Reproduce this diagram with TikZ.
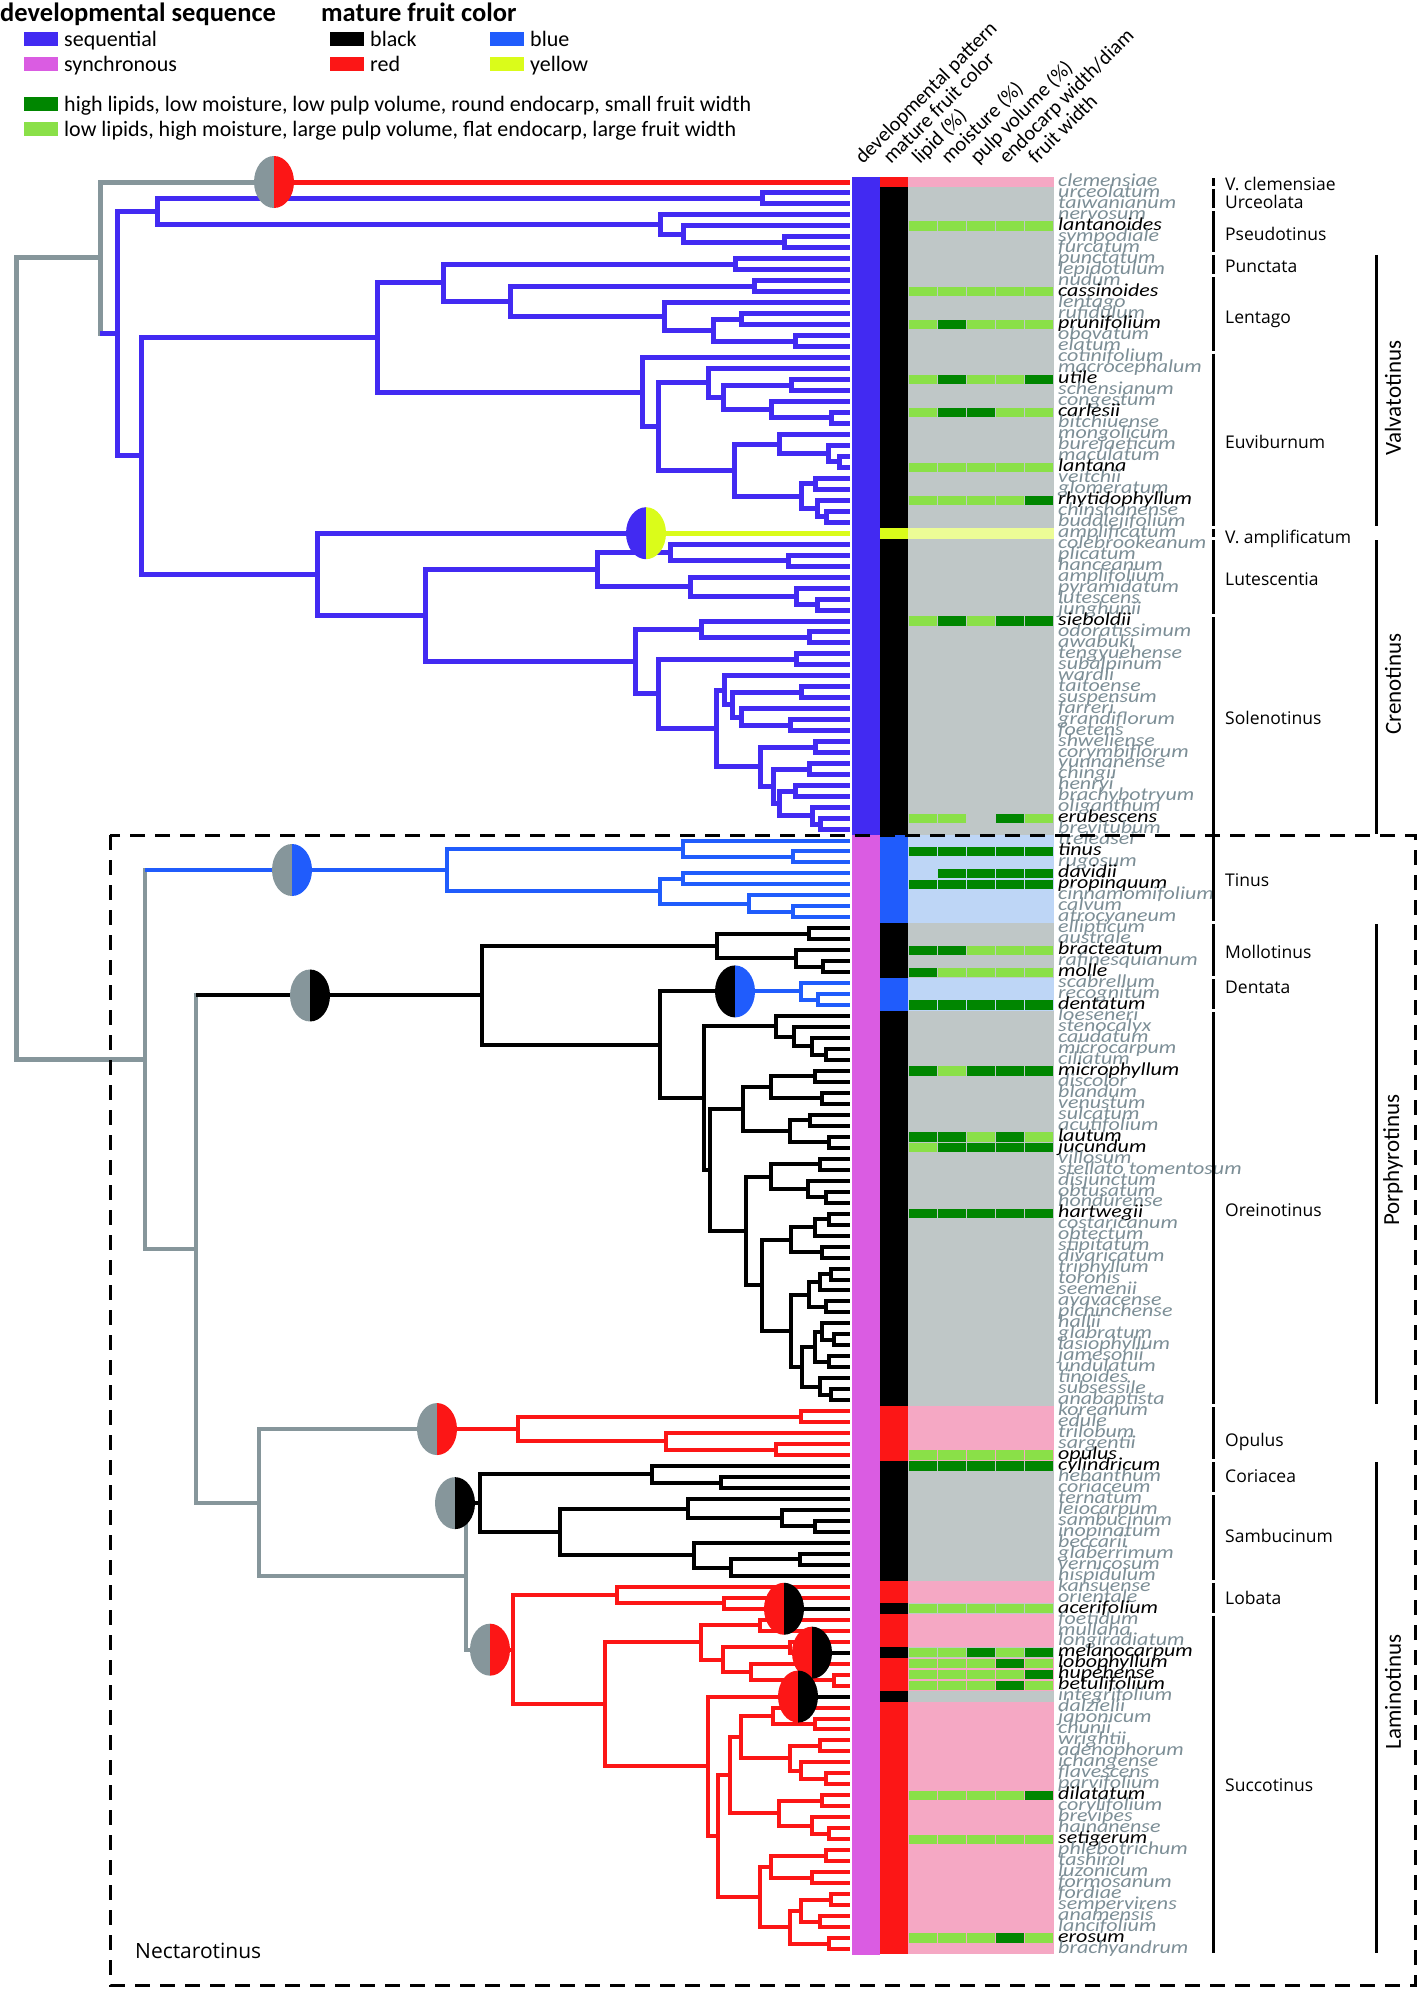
\documentclass[tikz,border=0pt]{standalone}
\usepackage{fontspec}
\setmainfont{Carlito}
\newfontfamily\cladefont{Open Sans}
\newfontfamily\spfont[FakeStretch=1.2]{Carlito}
\usetikzlibrary{calc}

\definecolor{seqc}{RGB}{66,42,242}
\definecolor{syncc}{RGB}{218,92,226}
\definecolor{redf}{RGB}{252,22,22}
\definecolor{bluef}{RGB}{32,92,252}
\definecolor{yelf}{RGB}{218,252,26}
\definecolor{dg}{RGB}{0,134,0}
\definecolor{lg}{RGB}{138,224,72}
\definecolor{greybg}{RGB}{191,199,199}
\definecolor{pinkbg}{RGB}{245,168,196}
\definecolor{bluebg}{RGB}{190,214,246}
\definecolor{yelbg}{RGB}{236,252,150}
\definecolor{treegrey}{RGB}{134,150,155}
\definecolor{sg}{RGB}{124,142,150}

% one node of the tree: name, x, two children
\newcommand{\brn}[4]{%
  \path let \p1=(#3), \p2=(#4) in coordinate (#1) at ({#2pt},{(\y1+\y2)/2});
  \draw (#1) |- (#3);
  \draw (#1) |- (#4);
}
% ancestral state: node, x, left colour, right colour, line width
\newcommand{\halfpie}[5]{%
  \path let \p1=(#1) in coordinate (pie#1) at ({#2pt},\y1);
  \draw[line width=#5, #4] (pie#1) -- (#1);
  \fill[#3] (pie#1) ++(0,26) arc[start angle=90, end angle=270, x radius=20, y radius=26] -- cycle;
  \fill[#4] (pie#1) ++(0,-26) arc[start angle=-90, end angle=90, x radius=20, y radius=26] -- cycle;
}

\tikzset{
  sp/.style={anchor=base west, inner sep=0pt, font=\spfont\itshape\fontsize{18.3}{18}\selectfont},
  hdr/.style={anchor=base west, inner sep=0pt, rotate=45, font=\fontsize{20.5}{22}\selectfont},
  clade/.style={anchor=base west, inner sep=0pt, font=\cladefont\fontsize{17.5}{18}\selectfont},
  grp/.style={rotate=90, inner sep=0pt, font=\fontsize{23}{24}\selectfont},
  cladebar/.style={line width=3pt},
  legt/.style={anchor=base west, inner sep=0pt, font=\bfseries\fontsize{26.5}{28}\selectfont},
  legi/.style={anchor=base west, inner sep=0pt, font=\fontsize{22}{24}\selectfont},
  upper/.style={line width=5pt, line join=miter},
  lower/.style={line width=4pt, line join=miter}
}

\begin{document}
\begin{tikzpicture}[x=1pt, y=-1pt]
\useasboundingbox (0,0) rectangle (1419,1989);

% legend
\node[legt] (lt1) at (0,21) {developmental sequence};
\node[legt] (lt2) at (321,21) {mature fruit color};
\foreach \x/\y/\c/\t in {24/39/seqc/sequential, 24/64/syncc/synchronous,
    330/39/black/black, 490/39/bluef/blue, 330/64/redf/red, 490/64/yelf/yellow,
    24/104/dg/{high lipids, low moisture, low pulp volume, round endocarp, small fruit width},
    24/129/lg/{low lipids, high moisture, large pulp volume, flat endocarp, large fruit width}}{
  \fill[\c] (\x,{\y-7}) rectangle ({\x+34},{\y+7});
  \node[legi] at ({\x+40},{\y+7}) {\t};
}

% column heads
\node[hdr] (h1) at (863,165) {developmental pattern};
\node[hdr] (h2) at (891,165) {mature fruit color};
\node[hdr] (h3) at (920,165) {lipid (\%)};
\node[hdr] (h4) at (949,165) {moisture (\%)};
\node[hdr] (h5) at (978,165) {pulp volume (\%)};
\node[hdr] (h6) at (1007,165) {endocarp width/diam};
\node[hdr] (h7) at (1036,165) {fruit width};

% character columns
\fill[seqc] (852,176.5) rectangle (880,835);
\fill[syncc] (852,835) rectangle (880,1954.5);
\foreach \a/\b/\fc/\bg in {1/1/redf/pinkbg, 2/32/black/greybg, 33/33/yelf/yelbg,
    34/60/black/greybg, 61/68/bluef/bluebg, 69/73/black/greybg, 74/76/bluef/bluebg,
    77/112/black/greybg, 113/117/redf/pinkbg, 118/128/black/greybg, 129/130/redf/pinkbg,
    131/131/black/greybg, 132/134/redf/pinkbg, 135/135/black/greybg, 136/138/redf/pinkbg,
    139/139/black/greybg, 140/162/redf/pinkbg}{
  \fill[\fc] (880,{176.5+(\a-1)*10.975}) rectangle (908,{176.5+\b*10.975});
  \fill[\bg] (908,{176.5+(\a-1)*10.975}) rectangle (1054,{176.5+\b*10.975});
}
\foreach \r/\cs in {5/{lg,lg,lg,lg,lg}, 11/{lg,lg,lg,lg,lg}, 14/{lg,dg,lg,lg,lg},
    19/{lg,dg,lg,lg,dg}, 22/{lg,dg,dg,lg,lg}, 27/{lg,lg,lg,lg,lg}, 30/{lg,lg,lg,lg,dg},
    41/{lg,dg,lg,dg,dg}, 59/{lg,lg,none,dg,lg}, 62/{dg,dg,dg,dg,dg}, 64/{none,dg,dg,dg,dg},
    65/{dg,dg,dg,dg,dg}, 71/{dg,dg,lg,lg,lg}, 73/{dg,lg,lg,lg,lg}, 76/{dg,dg,dg,dg,dg},
    82/{dg,lg,dg,dg,dg}, 88/{dg,dg,lg,dg,lg}, 89/{lg,dg,dg,dg,dg}, 95/{dg,dg,dg,dg,dg},
    117/{lg,lg,lg,lg,lg}, 118/{dg,dg,dg,dg,dg}, 131/{lg,lg,lg,lg,lg}, 135/{lg,lg,dg,lg,dg},
    136/{lg,lg,lg,dg,lg}, 137/{lg,lg,lg,lg,dg}, 138/{lg,lg,lg,dg,lg}, 148/{lg,lg,lg,lg,dg},
    152/{lg,lg,lg,lg,lg}, 161/{lg,lg,lg,dg,lg}}{
  \foreach \c [count=\k] in \cs
    \path[fill=\c] ({908+(\k-1)*29.2+0.6},{176.5+(\r-1)*10.975+0.8})
      rectangle ({908+\k*29.2-0.6},{176.5+\r*10.975-0.8});
}

% taxa
\foreach \nm/\c [count=\i] in {clemensiae/sg, urceolatum/sg, taiwanianum/sg, nervosum/sg,
    lantanoides/black, sympodiale/sg, furcatum/sg, punctatum/sg, lepidotulum/sg, nudum/sg,
    cassinoides/black, lentago/sg, rufidulum/sg, prunifolium/black, obovatum/sg, elatum/sg,
    cotinifolium/sg, macrocephalum/sg, utile/black, schensianum/sg, congestum/sg,
    carlesii/black, bitchiuense/sg, mongolicum/sg, burejaeticum/sg, maculatum/sg,
    lantana/black, veitchii/sg, glomeratum/sg, rhytidophyllum/black, chinshanense/sg,
    buddlejifolium/sg, amplificatum/sg, colebrookeanum/sg, plicatum/sg, hanceanum/sg,
    amplifolium/sg, pyramidatum/sg, lutescens/sg, junghunii/sg, sieboldii/black,
    odoratissimum/sg, awabuki/sg, tengyuehense/sg, subalpinum/sg, wardii/sg, taitoense/sg,
    suspensum/sg, farreri/sg, grandiflorum/sg, foetens/sg, shweliense/sg, corymbiflorum/sg,
    yunnanense/sg, chingii/sg, henryi/sg, brachybotryum/sg, oliganthum/sg, erubescens/black,
    brevitubum/sg, treleasei/sg, tinus/black, rugosum/sg, davidii/black, propinquum/black,
    cinnamomifolium/sg, calvum/sg, atrocyaneum/sg, ellipticum/sg, australe/sg,
    bracteatum/black, rafinesquianum/sg, molle/black, scabrellum/sg, recognitum/sg,
    dentatum/black, loeseneri/sg, stenocalyx/sg, caudatum/sg, microcarpum/sg, ciliatum/sg,
    microphyllum/black, discolor/sg, blandum/sg, venustum/sg, sulcatum/sg, acutifolium/sg,
    lautum/black, jucundum/black, villosum/sg, stellato tomentosum/sg, disjunctum/sg,
    obtusatum/sg, hondurense/sg, hartwegii/black, costaricanum/sg, obtectum/sg,
    stipitatum/sg, divaricatum/sg, triphyllum/sg, toronis/sg, seemenii/sg, ayavacense/sg,
    pichinchense/sg, hallii/sg, glabratum/sg, lasiophyllum/sg, jamesonii/sg, undulatum/sg,
    tinoides/sg, subsessile/sg, anabaptista/sg, koreanum/sg, edule/sg, trilobum/sg,
    sargentii/sg, opulus/black, cylindricum/black, hebanthum/sg, coriaceum/sg, ternatum/sg,
    leiocarpum/sg, sambucinum/sg, inopinatum/sg, beccarii/sg, glaberrimum/sg,
    vernicosum/sg, hispidulum/sg, kansuense/sg, orientale/sg, acerifolium/black,
    foetidum/sg, mullaha/sg, longiradiatum/sg, melanocarpum/black, lobophyllum/black,
    hupehense/black, betulifolium/black, integrifolium/sg, dalzielii/sg, japonicum/sg,
    chunii/sg, wrightii/sg, adenophorum/sg, ichangense/sg, flavescens/sg, parvifolium/sg,
    dilatatum/black, corylifolium/sg, brevipes/sg, hainanense/sg, setigerum/black,
    phlebotrichum/sg, tashiroi/sg, luzonicum/sg, formosanum/sg, fordiae/sg,
    sempervirens/sg, anamensis/sg, lancifolium/sg, erosum/black, brachyandrum/sg}{
  \node[sp, text=\c] (sp\i) at (1058,{182+(\i-1)*10.975+4.3}) {\nm};
  \coordinate (t\i) at (850,{182+(\i-1)*10.975});
}

% clades
\foreach \nm/\a/\b/\ly in {V. clemensiae/1/1/184, Urceolata/2/3/202, Pseudotinus/4/7/234,
    Punctata/8/9/266, Lentago/10/16/317, Euviburnum/17/32/442, V. amplificatum/33/33/537,
    Lutescentia/34/40/579, Solenotinus/41/60/718, Tinus/61/68/880, Mollotinus/69/73/952,
    Dentata/74/76/987, Oreinotinus/77/112/1210, Opulus/113/117/1440, Coriacea/118/120/1476,
    Sambucinum/121/128/1536, Lobata/129/131/1598, Succotinus/132/162/1785}{
  \draw[cladebar] (1213,{176.5+(\a-1)*10.975+1.5}) -- (1213,{176.5+\b*10.975-1.5});
  \node[clade] (c\a) at (1225,{\ly+6}) {\nm};
}
\foreach \nm/\a/\b/\ly in {Valvatotinus/8/32/398, Crenotinus/34/60/684,
    Porphyrotinus/69/112/1160, Laminotinus/118/162/1692}{
  \draw[cladebar] (1376,{176.5+(\a-1)*10.975+1.5}) -- (1376,{176.5+\b*10.975-1.5});
  \node[grp] (g\a) at (1393,\ly) {\nm};
}

% sequential part of the tree
\begin{scope}[upper, color=seqc]
  \brn{u1}{762}{t2}{t3}
  \brn{p2}{784}{t6}{t7}
  \brn{p1}{683}{t5}{p2}
  \brn{p0}{660}{t4}{p1}
  \brn{nc}{157}{u1}{p0}
  \brn{pu}{735}{t8}{t9}
  \brn{l1}{754}{t10}{t11}
  \brn{l4}{741}{t13}{t14}
  \brn{l5}{795}{t15}{t16}
  \brn{l3}{713}{l4}{l5}
  \brn{l2}{664}{t12}{l3}
  \brn{lh}{510}{l1}{l2}
  \brn{ng}{443}{pu}{lh}
  \brn{e1}{791}{t19}{t20}
  \brn{e2}{831}{t22}{t23}
  \brn{e3}{771}{t21}{e2}
  \brn{e4}{723}{e1}{e3}
  \brn{e5}{708}{t18}{e4}
  \brn{e6}{839}{t26}{t27}
  \brn{e7}{828}{t25}{e6}
  \brn{e8}{779}{t24}{e7}
  \brn{e9}{815}{t28}{t29}
  \brn{e10}{826}{t31}{t32}
  \brn{e11}{817}{t30}{e10}
  \brn{e12}{801}{e9}{e11}
  \brn{e13}{734}{e8}{e12}
  \brn{e14}{658}{e5}{e13}
  \brn{eu}{642}{t17}{e14}
  \brn{nf}{377}{ng}{eu}
  \brn{lu1}{788}{t35}{t36}
  \brn{lu2}{670}{t34}{lu1}
  \brn{lu3}{817}{t39}{t40}
  \brn{lu4}{796}{t38}{lu3}
  \brn{lu5}{690}{t37}{lu4}
  \brn{lu}{597}{lu2}{lu5}
  \brn{s1}{809}{t42}{t43}
  \brn{s2}{701}{t41}{s1}
  \brn{s3}{796}{t44}{t45}
  \brn{s4}{801}{t47}{t48}
  \brn{s5}{790}{t50}{t51}
  \brn{s6}{741}{t49}{s5}
  \brn{s7}{732}{s4}{s6}
  \brn{s8}{724}{t46}{s7}
  \brn{s10}{815}{t52}{t53}
  \brn{s11}{809}{t54}{t55}
  \brn{s12}{795}{t56}{t57}
  \brn{s13}{820}{t59}{t60}
  \brn{s14}{812}{t58}{s13}
  \brn{s15}{779}{s12}{s14}
  \brn{s16}{773}{s11}{s15}
  \brn{s17}{760}{s10}{s16}
  \brn{s18}{716}{s8}{s17}
  \brn{s19}{658}{s3}{s18}
  \brn{so}{635}{s2}{s19}
  \brn{cr}{425}{lu}{so}
  \brn{nu}{317}{t33}{cr}
  \brn{ne}{141}{nf}{nu}
  \brn{nb}{117}{nc}{ne}
\end{scope}

% synchronous part of the tree
\begin{scope}[lower, color=bluef]
  \brn{ti1}{793}{t62}{t63}
  \brn{ti2}{683}{t61}{ti1}
  \brn{ti3}{683}{t64}{t65}
  \brn{ti4}{793}{t67}{t68}
  \brn{ti5}{749}{t66}{ti4}
  \brn{ti6}{660}{ti3}{ti5}
  \brn{tin}{447}{ti2}{ti6}
  \brn{d1}{818}{t75}{t76}
  \brn{de}{801}{t74}{d1}
\end{scope}
\begin{scope}[lower, color=black]
  \brn{m1}{809}{t69}{t70}
  \brn{m2}{823}{t72}{t73}
  \brn{m3}{796}{t71}{m2}
  \brn{mo}{717}{m1}{m3}
  \brn{o1}{826}{t80}{t81}
  \brn{o2}{812}{t79}{o1}
  \brn{o3}{794}{t78}{o2}
  \brn{o4}{776}{t77}{o3}
  \brn{o5}{815}{t82}{t83}
  \brn{o6}{822}{t84}{t85}
  \brn{o7}{771}{o5}{o6}
  \brn{o8}{810}{t86}{t87}
  \brn{o9}{829}{t88}{t89}
  \brn{o10}{790}{o8}{o9}
  \brn{o12}{743}{o7}{o10}
  \brn{o13}{820}{t90}{t91}
  \brn{o14}{826}{t93}{t94}
  \brn{o15}{808}{t92}{o14}
  \brn{o16}{771}{o13}{o15}
  \brn{o17}{829}{t95}{t96}
  \brn{o18}{815}{o17}{t97}
  \brn{o19}{822}{t98}{t99}
  \brn{o20}{791}{o18}{o19}
  \brn{o21}{831}{t100}{t101}
  \brn{o22}{820}{o21}{t102}
  \brn{o23}{826}{t103}{t104}
  \brn{o24}{809}{o22}{o23}
  \brn{o25}{834}{t106}{t107}
  \brn{o26}{822}{t105}{o25}
  \brn{o27}{829}{t108}{t109}
  \brn{o28}{815}{o26}{o27}
  \brn{o29}{831}{t111}{t112}
  \brn{o30}{820}{t110}{o29}
  \brn{o31}{802}{o28}{o30}
  \brn{o32}{791}{o24}{o31}
  \brn{o33}{762}{o20}{o32}
  \brn{o34}{746}{o16}{o33}
  \brn{o35}{710}{o12}{o34}
  \brn{ore}{704}{o4}{o35}
  \brn{pd}{660}{de}{ore}
  \brn{po}{482}{mo}{pd}
  \brn{co1}{721}{t119}{t120}
  \brn{cor}{652}{t118}{co1}
  \brn{sa1}{815}{t123}{t124}
  \brn{sa2}{782}{t122}{sa1}
  \brn{sa3}{688}{t121}{sa2}
  \brn{sa4}{800}{t126}{t127}
  \brn{sa5}{731}{sa4}{t128}
  \brn{sa6}{694}{t125}{sa5}
  \brn{sam}{560}{sa3}{sa6}
  \brn{lab}{480}{cor}{sam}
\end{scope}
\begin{scope}[lower, color=redf]
  \brn{op1}{801}{t113}{t114}
  \brn{op2}{776}{t116}{t117}
  \brn{op3}{666}{t115}{op2}
  \brn{opu}{518}{op1}{op3}
  \brn{lo1}{724}{t130}{t131}
  \brn{lob}{617}{t129}{lo1}
  \brn{su1}{760}{t132}{t133}
  \brn{su2}{790}{t134}{t135}
  \brn{su3}{834}{t137}{t138}
  \brn{su4}{751}{t136}{su3}
  \brn{su5}{723}{su2}{su4}
  \brn{su6}{701}{su1}{su5}
  \brn{sc1}{815}{t141}{t142}
  \brn{sc2}{773}{t140}{sc1}
  \brn{sc3}{820}{t143}{t144}
  \brn{sc4}{826}{t146}{t147}
  \brn{sc5}{801}{t145}{sc4}
  \brn{sc6}{790}{sc3}{sc5}
  \brn{sc7}{741}{sc2}{sc6}
  \brn{sc8}{822}{t148}{t149}
  \brn{sc9}{829}{t151}{t152}
  \brn{sc10}{812}{t150}{sc9}
  \brn{sc11}{779}{sc8}{sc10}
  \brn{sc12}{730}{sc7}{sc11}
  \brn{sc13}{826}{t153}{t154}
  \brn{sc14}{812}{t155}{t156}
  \brn{sc15}{771}{sc13}{sc14}
  \brn{sc16}{831}{t157}{t158}
  \brn{sc17}{820}{t159}{t160}
  \brn{sc18}{801}{sc16}{sc17}
  \brn{sc19}{829}{t161}{t162}
  \brn{sc20}{790}{sc18}{sc19}
  \brn{sc21}{760}{sc15}{sc20}
  \brn{sc22}{718}{sc12}{sc21}
  \brn{sc23}{708}{t139}{sc22}
  \brn{su8}{605}{su6}{sc23}
  \brn{suc}{513}{lob}{su8}
\end{scope}

% backbone
\begin{scope}[lower, color=treegrey]
  \brn{nh}{466}{lab}{suc}
  \brn{ng2}{259}{opu}{nh}
  \brn{nf2}{196}{po}{ng2}
  \brn{nect}{145}{tin}{nf2}
\end{scope}
\begin{scope}[upper, color=treegrey]
  \brn{na}{100}{t1}{nb}
  \brn{root}{16}{na}{nect}
\end{scope}
\draw[upper, seqc] (na |- nb) -- (nb);
\draw[lower, bluef] (nect |- tin) -- (tin);
\draw[lower, black] (nf2 |- po) -- (po);
\draw[lower, black] (nh |- lab) -- (lab);

% ancestral states
\halfpie{t1}{274}{treegrey}{redf}{5pt}
\halfpie{t33}{646}{seqc}{yelf}{5pt}
\halfpie{tin}{292}{treegrey}{bluef}{4pt}
\halfpie{po}{310}{treegrey}{black}{4pt}
\halfpie{de}{735}{black}{bluef}{4pt}
\halfpie{opu}{437}{treegrey}{redf}{4pt}
\halfpie{lab}{455}{treegrey}{black}{4pt}
\halfpie{suc}{490}{treegrey}{redf}{4pt}
\halfpie{t131}{784}{redf}{black}{4pt}
\halfpie{t135}{812}{redf}{black}{4pt}
\halfpie{t139}{798}{redf}{black}{4pt}

% Nectarotinus
\draw[line width=3pt, dash pattern=on 15pt off 10pt] (110,835) rectangle (1415,1985);
\node[clade, font=\cladefont\fontsize{21}{22}\selectfont] (nectlabel) at (135,1958) {Nectarotinus};
\end{tikzpicture}
\end{document}
